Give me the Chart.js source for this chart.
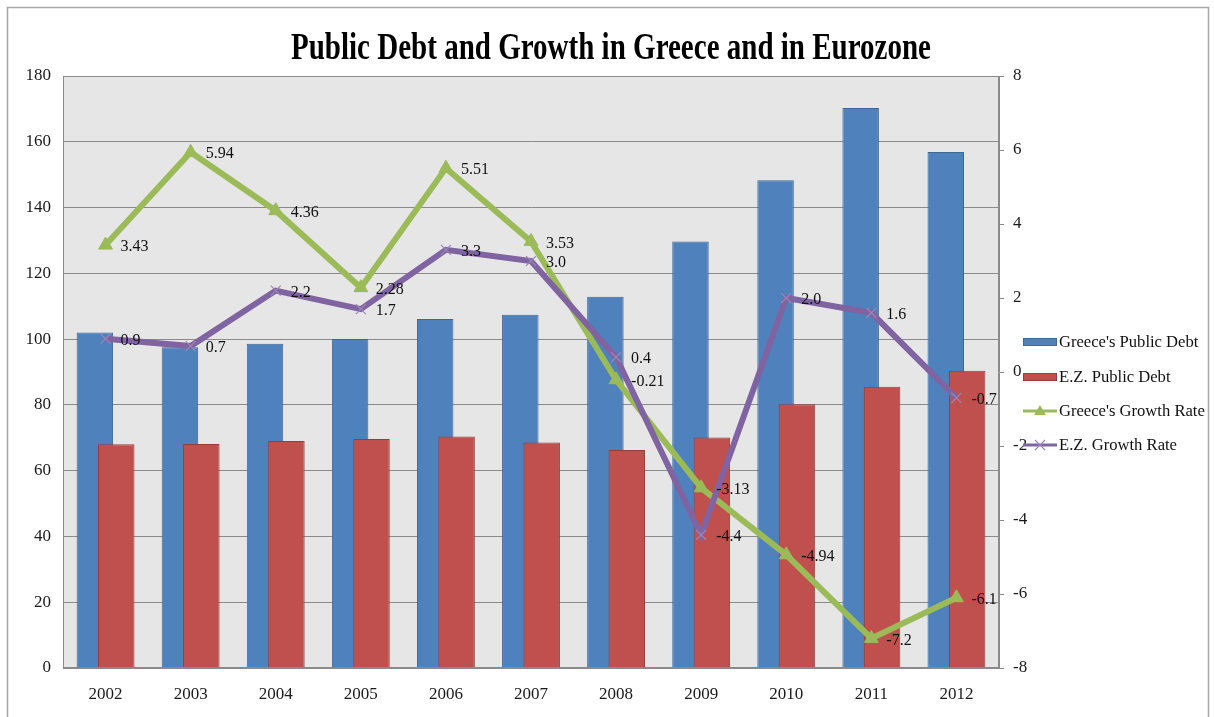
<!DOCTYPE html>
<html>
<head>
<meta charset="utf-8">
<script src="https://cdn.jsdelivr.net/npm/chart.js@4.4.1/dist/chart.umd.min.js"></script>
<style>
html,body{margin:0;padding:0;background:#fff;}
#wrap{position:relative;width:1214px;height:717px;}
canvas{display:block;}
</style>
</head>
<body>
<div id="wrap"><canvas id="c" width="1214" height="717"></canvas></div>
<script>
const chartTitle = 'Public Debt and Growth in Greece and in Eurozone';
const years = ['2002','2003','2004','2005','2006','2007','2008','2009','2010','2011','2012'];
const greeceDebt = [102.0, 97.5, 98.6, 100.0, 106.1, 107.4, 112.9, 129.7, 148.3, 170.3, 156.9];
const ezDebt = [68.0, 68.1, 69.0, 69.6, 70.4, 68.6, 66.3, 70.1, 80.2, 85.5, 90.4];
const greeceGrowth = [3.43, 5.94, 4.36, 2.28, 5.51, 3.53, -0.21, -3.13, -4.94, -7.2, -6.1];
const ezGrowth = [0.9, 0.7, 2.2, 1.7, 3.3, 3.0, 0.4, -4.4, 2.0, 1.6, -0.7];
const seriesNames = ["Greece's Public Debt", 'E.Z. Public Debt', "Greece's Growth Rate", 'E.Z. Growth Rate'];
const leftTicks = {min: 0, max: 180, step: 20};
const rightTicks = {min: -8, max: 8, step: 2};

const SERIF = '"Liberation Serif", "Times New Roman", serif';
const BLUE = '#4F81BD', RED = '#C0504D', GREEN = '#9BBB59', PURPLE = '#8064A2';

Chart.defaults.font.family = SERIF;
Chart.defaults.color = '#1a1a1a';

// draw datasets in index order (blue, red, green line, purple line)
const drawOrderPlugin = {
  id: 'drawOrder',
  beforeDatasetsDraw(chart) {
    const metas = chart.getSortedVisibleDatasetMetas().slice().sort((a, b) => a.index - b.index);
    metas.forEach(m => {
      if (typeof chart._drawDataset === 'function') chart._drawDataset(m);
      else m.controller.draw();
    });
    return false;
  }
};

const framePlugin = {
  id: 'frame',
  beforeDraw(chart) {
    const {ctx, chartArea: a} = chart;
    ctx.save();
    ctx.fillStyle = '#fff';
    ctx.fillRect(0, 0, chart.width, chart.height);
    ctx.strokeStyle = '#a6a6a6';
    ctx.lineWidth = 1.5;
    ctx.strokeRect(7.5, 7.5, 1201, 730);
    ctx.fillStyle = '#e6e6e6';
    ctx.fillRect(a.left, a.top, a.right - a.left, a.bottom - a.top);
    ctx.restore();
  },
  afterDraw(chart) {
    const {ctx, chartArea: a} = chart;
    ctx.save();
    ctx.strokeStyle = '#8a8a8a';
    ctx.lineWidth = 1;
    ctx.strokeRect(a.left + 0.5, a.top + 0.5, a.right - a.left - 1, a.bottom - a.top - 1);
    // title
    ctx.fillStyle = '#000';
    ctx.font = 'bold 37px ' + SERIF;
    ctx.textBaseline = 'alphabetic';
    ctx.textAlign = 'left';
    const w = ctx.measureText(chartTitle).width;
    const targetW = 640;
    ctx.translate(291, 59);
    ctx.scale(targetW / w, 1);
    ctx.fillText(chartTitle, 0, 0);
    ctx.restore();

    // data labels for the growth lines
    ctx.save();
    ctx.font = '16px ' + SERIF;
    ctx.fillStyle = '#111';
    ctx.textAlign = 'left';
    ctx.textBaseline = 'middle';
    chart.data.datasets.forEach((ds, i) => {
      if (!ds.labelFormat) return;
      const meta = chart.getDatasetMeta(i);
      meta.data.forEach((pt, j) => {
        ctx.fillText(ds.labelFormat(ds.data[j]), pt.x + 15, pt.y + 2);
      });
    });
    ctx.restore();

    // legend
    ctx.save();
    const lx = 1023, lw = 34, tx = 1059;
    const ys = [342, 377, 411, 445];
    chart.data.datasets.forEach((ds, i) => {
      const y = ys[i];
      if (ds.type === 'bar') {
        ctx.fillStyle = ds.backgroundColor;
        ctx.fillRect(lx, y - 4, lw, 8);
        ctx.strokeStyle = ds.borderColor;
        ctx.lineWidth = 1;
        ctx.strokeRect(lx + 0.5, y - 3.5, lw - 1, 7);
      } else {
        ctx.strokeStyle = ds.borderColor;
        ctx.lineWidth = 3;
        ctx.beginPath();
        ctx.moveTo(lx, y); ctx.lineTo(lx + lw, y);
        ctx.stroke();
        const cx = lx + lw / 2;
        if (ds.pointStyle === 'triangle') {
          ctx.fillStyle = ds.borderColor;
          ctx.beginPath();
          ctx.moveTo(cx, y - 6); ctx.lineTo(cx + 6, y + 4); ctx.lineTo(cx - 6, y + 4);
          ctx.closePath(); ctx.fill();
        } else {
          ctx.strokeStyle = ds.pointBorderColor;
          ctx.lineWidth = 1.2;
          ctx.beginPath();
          ctx.moveTo(cx - 5, y - 5); ctx.lineTo(cx + 5, y + 5);
          ctx.moveTo(cx + 5, y - 5); ctx.lineTo(cx - 5, y + 5);
          ctx.stroke();
        }
      }
      ctx.fillStyle = '#111';
      ctx.font = '16.6px ' + SERIF;
      ctx.textAlign = 'left';
      ctx.textBaseline = 'middle';
      ctx.fillText(ds.label, tx, y + 1);
    });
    ctx.restore();
  }
};

new Chart(document.getElementById('c'), {
  data: {
    labels: years,
    datasets: [
      {type: 'bar', label: seriesNames[0], data: greeceDebt, yAxisID: 'y',
       backgroundColor: BLUE, borderColor: '#3c6796', borderWidth: 1,
       categoryPercentage: 0.503, barPercentage: 1.705},
      {type: 'bar', label: seriesNames[1], data: ezDebt, yAxisID: 'y',
       backgroundColor: RED, borderColor: '#943d3b', borderWidth: 1,
       categoryPercentage: 0.503, barPercentage: 1.705},
      {type: 'line', label: seriesNames[2], data: greeceGrowth, yAxisID: 'y2',
       borderColor: GREEN, backgroundColor: GREEN, borderWidth: 6, tension: 0,
       pointStyle: 'triangle', pointRadius: 8, pointBackgroundColor: GREEN, pointBorderColor: GREEN,
       pointBorderWidth: 1, labelFormat: v => String(v)},
      {type: 'line', label: seriesNames[3], data: ezGrowth, yAxisID: 'y2',
       borderColor: PURPLE, backgroundColor: PURPLE, borderWidth: 6, tension: 0,
       pointStyle: 'crossRot', pointRadius: 7, pointBorderColor: '#9a86b8',
       pointBorderWidth: 1.2, labelFormat: v => v.toFixed(1)}
    ]
  },
  options: {
    responsive: false,
    animation: false,
    layout: {padding: {top: 76, left: 0, right: 0, bottom: 0}},
    plugins: {legend: {display: false}, title: {display: false}, tooltip: {enabled: false}},
    scales: {
      x: {
        type: 'category', offset: true,
        grid: {display: false, drawTicks: false},
        border: {display: true, color: '#8a8a8a'},
        ticks: {font: {size: 17, family: SERIF}, color: '#1a1a1a', padding: 16, maxRotation: 0},
        afterFit(s) { s.height = 49; }
      },
      y: {
        position: 'left', min: leftTicks.min, max: leftTicks.max,
        ticks: {stepSize: leftTicks.step, font: {size: 17, family: SERIF}, color: '#1a1a1a', padding: 12},
        grid: {color: '#8a8a8a', lineWidth: 1, drawTicks: false},
        border: {display: true, color: '#8a8a8a'},
        afterFit(s) { s.width = 63; }
      },
      y2: {
        position: 'right', min: rightTicks.min, max: rightTicks.max,
        ticks: {stepSize: rightTicks.step, font: {size: 17, family: SERIF}, color: '#1a1a1a', padding: 9},
        grid: {drawOnChartArea: false, drawTicks: true, tickLength: 5, color: '#8a8a8a'},
        border: {display: true, color: '#8a8a8a'},
        afterFit(s) { s.width = 215; }
      }
    }
  },
  plugins: [drawOrderPlugin, framePlugin]
});
</script>
</body>
</html>
